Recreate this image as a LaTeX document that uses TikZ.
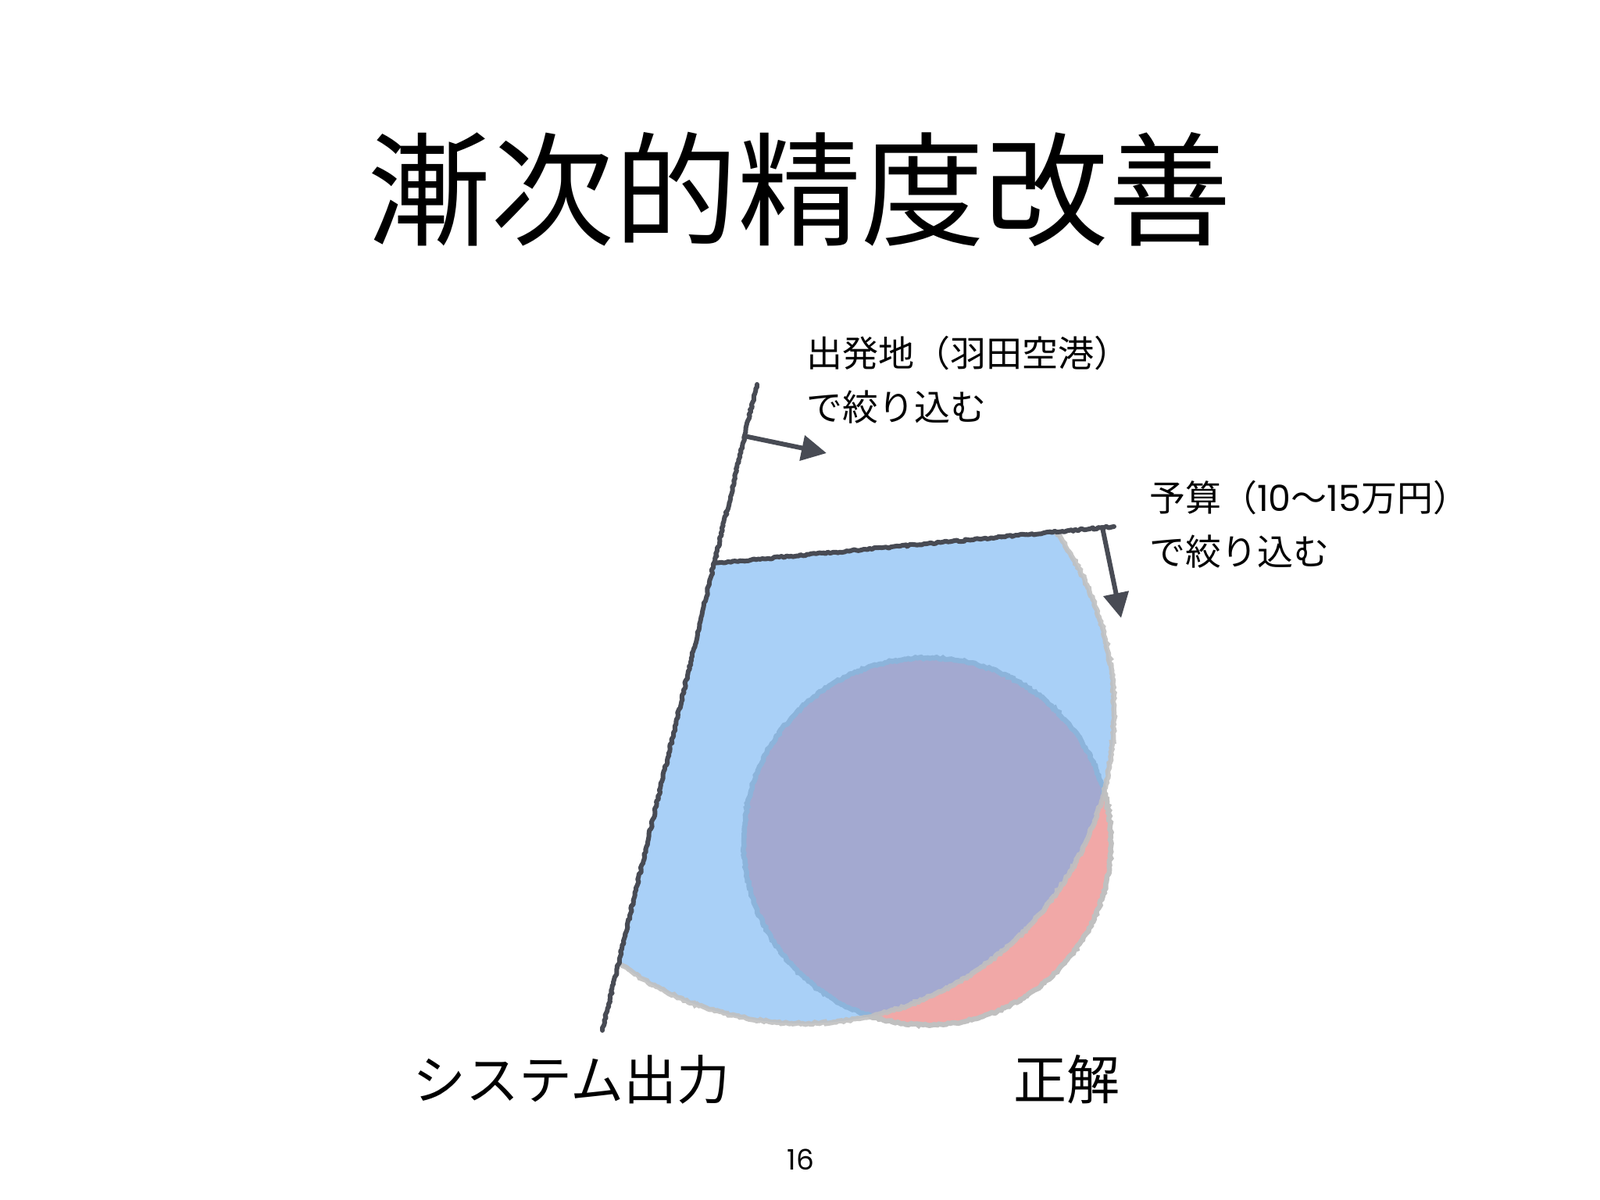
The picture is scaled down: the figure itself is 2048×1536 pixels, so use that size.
\documentclass[tikz,border=0pt]{standalone}
\usepackage{fontspec}
\setmainfont{Noto Sans CJK JP}
\newfontfamily\numfont{Poppins}
\usetikzlibrary{arrows.meta,decorations.pathmorphing,calc}
\definecolor{pencil}{HTML}{484B54}
\definecolor{bluefill}{HTML}{63ABF2}
\definecolor{pinkfill}{HTML}{F1A8A7}
\definecolor{rimgray}{HTML}{C0C0C0}
\begin{document}
\begin{tikzpicture}[x=1pt,y=-1pt,
  rough/.style={decorate,decoration={random steps,segment length=3pt,amplitude=1.2pt}},
  pencilline/.style={draw=pencil,line width=6pt,line cap=round,line join=round},
  rim/.style={draw=rimgray,line width=6.5pt},
  pointer/.style={pencilline,-{Triangle[length=32pt,width=32pt]}},
  label/.style={inner sep=0pt,anchor=west,align=left,font=\fontsize{46}{69}\selectfont},
  biglabel/.style={inner sep=0pt,anchor=west,font=\fontsize{68}{80}\selectfont},
]
\path[use as bounding box,fill=white] (0,0) rectangle (2048,1536);

% geometry
\coordinate (Ltop) at (969,492);
\coordinate (Lbot) at (771,1319);
\coordinate (Tleft) at (914,721);
\coordinate (Tright) at (1426,674);
\coordinate (A1s) at (957,559);
\coordinate (A1e) at (1058,580);
\coordinate (A2s) at (1411,675);
\coordinate (A2e) at (1435,791);
\coordinate (Bc) at (1028,912);
\coordinate (Pc) at (1187,1077);

% correct answer (pink)
\fill[pinkfill] (Pc) circle[radius=235];
\draw[rim,rough] (Pc) circle[radius=235];

% system output (blue), cut by the two filters
\begin{scope}
  \clip (Tleft) -- ($(Tleft)!2!(Tright)$) -- (1990,1800) -- ($(Ltop)!1.5!(Lbot)$) -- cycle;
  \fill[bluefill,fill opacity=0.55] (Bc) circle[radius=398];
  \draw[rim,rough,draw opacity=0.9] (Bc) circle[radius=398];
\end{scope}

% filter lines
\draw[pencilline,rough] (Ltop) -- (Lbot);
\draw[pencilline,rough] (Tleft) -- (Tright);
\draw[pointer] (A1s) -- (A1e);
\draw[pointer] (A2s) -- (A2e);

% texts
\node[inner sep=0pt,font=\fontsize{158}{180}\selectfont] (title) at (1023,242) {漸次的精度改善};
\node[label] (f1) at (1032,486) {出発地（羽田空港）\\で絞り込む};
\node[label] (f2) at (1471,671) {予算（{\numfont 10}〜{\numfont 15}万円）\\で絞り込む};
\node[biglabel] (sys) at (528,1382) {システム出力};
\node[biglabel] (gold) at (1297,1382) {正解};
\node[inner sep=0pt,font=\numfont\fontsize{36}{40}\selectfont] (page) at (1025,1484) {16};
\end{tikzpicture}
\end{document}
